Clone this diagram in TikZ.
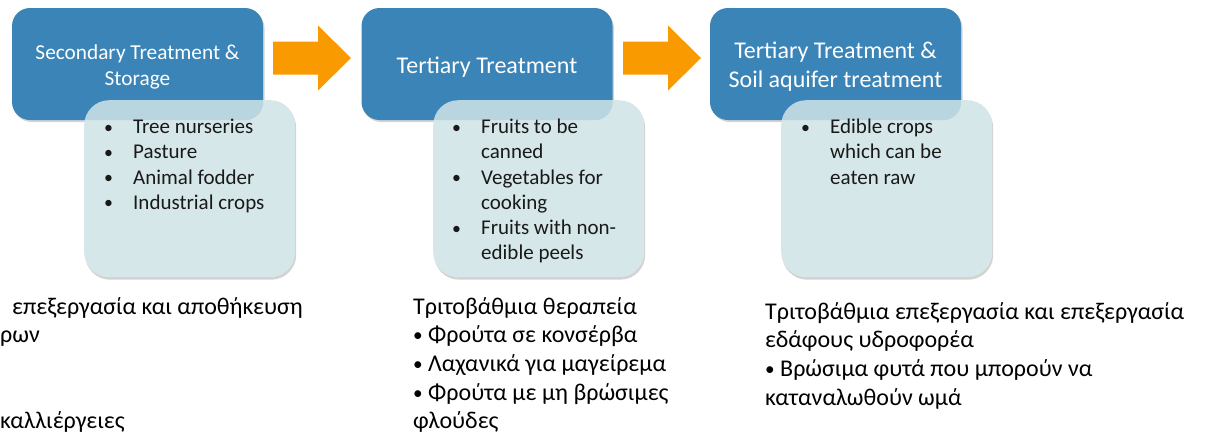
\documentclass[tikz,border=0pt]{standalone}
\usepackage{fontspec}
\setmainfont{Carlito}
\usetikzlibrary{shadows,calc}
\definecolor{boxblue}{RGB}{58,132,184}
\definecolor{boxlight}{RGB}{214,231,233}
\definecolor{arroworange}{RGB}{248,154,0}
\definecolor{txt}{RGB}{25,25,25}
\newcommand\bul{\makebox[29pt][l]{\raisebox{0.5pt}{\scalebox{0.85}{•}}}}
\newcommand\cont{\hspace*{29pt}}
\newcommand\gbul{\raisebox{1pt}{\scalebox{0.8}{•}}}
\begin{document}
\begin{tikzpicture}[x=1pt,y=-1pt,
  headbox/.style={fill=boxblue, rounded corners=18pt, minimum width=251pt, minimum height=112pt,
    inner sep=0pt,
    drop shadow={shadow xshift=1.5pt, shadow yshift=-2pt, opacity=0.35}},
  headtext/.style={inner sep=0pt, text=white, align=center, font=\fontsize{24}{29}\selectfont},
  listbox/.style={fill=boxlight, rounded corners=25pt, minimum width=211pt, minimum height=177pt,
    inner sep=0pt, anchor=north west,
    drop shadow={shadow xshift=1pt, shadow yshift=-2.5pt, opacity=0.35}},
  listtext/.style={anchor=north west, inner sep=0pt, align=left, text=txt,
    font=\fontsize{21}{25.2}\selectfont},
  greek/.style={anchor=north west, inner sep=0pt, align=left, text=black,
    font=\fontsize{24}{28.7}\selectfont},
  blockarrow/.style={fill=arroworange}]
\useasboundingbox (0,0) rectangle (1205,437);

% header boxes
\node[headbox] (h1) at (137.5,64) {};
\node[headbox] (h2) at (487,64) {};
\node[headbox] (h3) at (835.5,64) {};
\node[headtext, font=\fontsize{21.3}{25.5}\selectfont] (ht1) at ($(h1.center)+(0,3)$) {Secondary Treatment \&\\Storage};
\node[headtext] (ht2) at ($(h2.center)+(0,3)$) {Tertiary Treatment};
\node[headtext] (ht3) at ($(h3.center)+(0,3)$) {Tertiary Treatment \&\\Soil aquifer treatment};

% list boxes
\foreach \n/\x in {1/84,2/433,3/781}{
  \node[listbox] (l\n) at (\x,100) {};
  \begin{scope}
    \clip[rounded corners=25pt] (l\n.north west) rectangle (l\n.south east);
    \fill[boxblue, opacity=0.18, rounded corners=18pt] (h\n.north west) rectangle (h\n.south east);
  \end{scope}
}

\node[listtext] (t1) at (104,119) {\bul Tree nurseries\\\bul Pasture\\\bul Animal fodder\\\bul Industrial crops};
\node[listtext] (t2) at (452,119) {\bul Fruits to be\\\cont canned\\\bul Vegetables for\\\cont cooking\\\bul Fruits with non-\\\cont edible peels};
\node[listtext] (t3) at (801,119) {\bul Edible crops\\\cont which can be\\\cont eaten raw};

% arrows
\coordinate (a1) at (273,58);
\coordinate (a2) at (623,58);
\foreach \a in {a1,a2}{
  \fill[blockarrow] ($(\a)+(0,-16.5)$) -- ++(45,0) -- ++(0,-16) -- ++(33,32.5) -- ++(-33,32.5) -- ++(0,-16) -- ++(-45,0) -- cycle;
}

% greek texts
\node[greek] (g1) at (0,297) {\hspace*{12pt}επεξεργασία και αποθήκευση\\ρων\\~\\~\\καλλιέργειες};
\node[greek] (g2) at (413,297) {Τριτοβάθμια θεραπεία\\\gbul{} Φρούτα σε κονσέρβα\\\gbul{} Λαχανικά για μαγείρεμα\\\gbul{} Φρούτα με μη βρώσιμες\\φλούδες};
\node[greek] (g3) at (765,302) {Τριτοβάθμια επεξεργασία και επεξεργασία\\εδάφους υδροφορέα\\\gbul{} Βρώσιμα φυτά που μπορούν να\\καταναλωθούν ωμά};
\end{tikzpicture}
\end{document}
